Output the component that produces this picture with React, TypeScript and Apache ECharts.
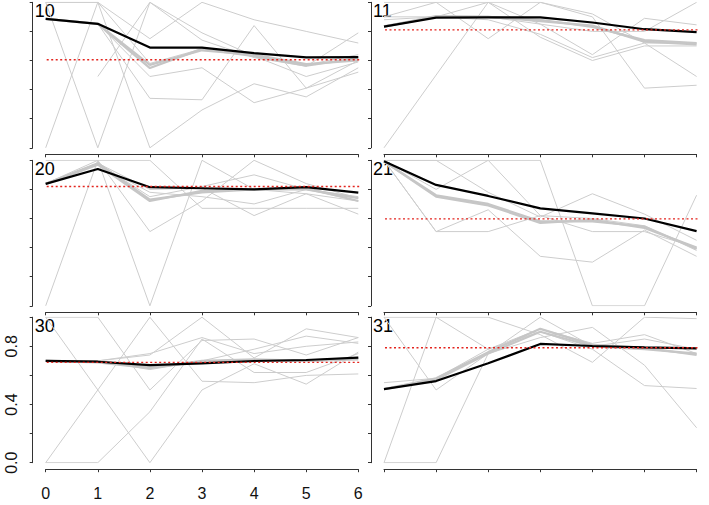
import React, { useEffect, useRef } from 'react';
import * as echarts from 'echarts';

// ---------- data ----------
const xValues = [0, 1, 2, 3, 4, 5, 6];
const panelLabels = ['10', '11', '20', '21', '30', '31'];
const yTickLabels = ['0.0', '0.4', '0.8'];
const refValues = [0.605, 0.81, 0.82, 0.598, 0.69, 0.79];

const black10 = [0.886, 0.852, 0.689, 0.689, 0.651, 0.621, 0.623];
const thick10 = [
  [0.886, 0.852, 0.548, 0.68, 0.63, 0.564, 0.616],
  [0.886, 0.852, 0.57, 0.67, 0.64, 0.575, 0.6],
];
const gray10 = [
  [1.0, 1.0, 0.75, 1.0, 0.88, 0.8, 0.72],
  [1.0, 0.0, 1.0, 0.79, 0.63, 0.49, 0.59],
  [0.0, 1.0, 0.0, 0.26, 0.44, 0.35, 0.55],
  [null, 0.49, 1.0, 0.74, 0.62, 0.56, 0.79],
  [0.886, 0.852, 0.34, 0.33, 0.84, 0.41, 0.52],
  [0.886, 0.852, 0.49, 0.55, 0.31, 0.41, 0.6],
  [1.0, 1.0, 0.58, 0.68, 0.63, 0.57, 0.64],
];

const black11 = [0.833, 0.895, 0.897, 0.897, 0.861, 0.815, 0.795];
const thick11 = [
  [0.833, 0.9, 0.9, 0.87, 0.84, 0.73, 0.71],
  [0.833, 0.905, 0.9, 0.88, 0.83, 0.74, 0.72],
];
const gray11 = [
  [0.0, 0.5, 1.0, 0.76, 0.6, 0.7, 0.7],
  [1.0, 1.0, 0.75, 1.0, 0.92, 0.72, 0.49],
  [0.9, 0.9, 1.0, 0.85, 0.64, 0.89, 0.845],
  [0.9, 1.0, 1.0, 1.0, 0.9, 0.41, 0.43],
  [0.88, 0.9, 0.9, 0.85, 0.8, 0.8, 1.0],
  [0.84, 0.9, 0.88, 0.78, 0.62, 0.72, 0.72],
];

const black20 = [0.838, 0.94, 0.815, 0.808, 0.8, 0.815, 0.778];
const thick20 = [
  [0.838, 0.98, 0.73, 0.78, 0.8, 0.81, 0.72],
  [0.838, 0.97, 0.72, 0.79, 0.8, 0.8, 0.74],
];
const gray20 = [
  [0.0, 1.0, 0.0, 1.0, 0.8, 0.77, 0.72],
  [1.0, 1.0, 1.0, 0.67, 0.67, 0.67, 0.67],
  [0.84, 1.0, 0.51, 0.72, 1.0, 0.84, 0.74],
  [0.84, 0.98, 0.8, 0.81, 0.62, 0.77, 0.63],
  [0.84, 0.98, 0.75, 0.82, 0.9, 0.8, 0.72],
  [0.84, 0.97, 0.78, 0.75, 0.7, 0.8, 0.75],
];

const black21 = [0.993, 0.831, 0.755, 0.67, 0.635, 0.6, 0.513];
const thick21 = [
  [0.993, 0.75, 0.69, 0.57, 0.59, 0.535, 0.4],
  [0.993, 0.76, 0.7, 0.58, 0.58, 0.545, 0.39],
];
const gray21 = [
  [1.0, 1.0, 1.0, 1.0, 0.0, 0.0, 0.76],
  [1.0, 0.51, 0.51, 0.62, 0.51, 0.51, 0.4],
  [1.0, 0.51, 0.66, 0.34, 0.3, 0.52, 0.34],
  [1.0, 1.0, 0.78, 0.61, 0.77, 0.63, 0.45],
  [1.0, 0.8, 1.0, 0.62, 0.6, 0.55, 0.38],
];

const black30 = [0.7, 0.694, 0.671, 0.683, 0.699, 0.706, 0.722];
const thick30 = [
  [0.7, 0.695, 0.66, 0.69, 0.7, 0.7, 0.72],
  [0.7, 0.69, 0.65, 0.7, 0.71, 0.7, 0.71],
];
const gray30 = [
  [1.0, 1.0, 0.5, 0.84, 0.85, 0.74, 0.86],
  [1.0, 0.5, 0.0, 0.5, 0.68, 0.54, 0.76],
  [0.0, 0.0, 0.35, 0.85, 0.62, 0.62, 0.75],
  [0.0, 0.5, 1.0, 0.56, 0.55, 0.6, 0.61],
  [0.7, 0.7, 0.74, 1.0, 0.72, 0.92, 0.86],
  [0.7, 0.7, 0.75, 0.86, 0.75, 0.8, 0.83],
  [0.7, 0.7, 0.64, 0.7, 0.78, 0.87, 0.82],
];

const black31 = [0.506, 0.561, 0.683, 0.816, 0.802, 0.793, 0.786];
const thick31 = [
  [0.506, 0.58, 0.76, 0.92, 0.81, 0.79, 0.74],
  [0.506, 0.57, 0.75, 0.9, 0.8, 0.78, 0.75],
];
const gray31 = [
  [0.0, 0.0, 0.75, 1.0, 0.8, 0.85, 0.78],
  [1.0, 1.0, 1.0, 0.88, 0.69, 1.0, 0.99],
  [0.0, 1.0, 0.78, 0.9, 0.78, 0.53, 0.51],
  [1.0, 0.5, 0.75, 0.86, 0.93, 0.67, 0.24],
  [0.55, 0.58, 0.78, 0.92, 0.82, 0.88, 0.75],
];

const blackLines = [black10, black11, black20, black21, black30, black31];
const thickLines = [thick10, thick11, thick20, thick21, thick30, thick31];
const grayLines = [gray10, gray11, gray20, gray21, gray30, gray31];

// ---------- layout ----------
const FONT = '"Liberation Sans", Arial, Helvetica, sans-serif';
const COL_LEFT = [45.7, 384];
const GRID_W = 312.6;
const ROW_TOP = [2.3, 160.3, 317.2];
const GRID_H = 145.5;
const Y_OFF = 13;
const X_OFF = 6.5;
const X_PAD = 0.24; // R's 4% axis extension, in x data units

function toPairs(vals: (number | null)[]) {
  const out: [number, number][] = [];
  vals.forEach((v, i) => {
    if (v !== null && v !== undefined) out.push([xValues[i], v]);
  });
  return out;
}

function buildOption() {
  const grid: any[] = [];
  const xAxis: any[] = [];
  const yAxis: any[] = [];
  const series: any[] = [];
  const graphic: any[] = [];

  panelLabels.forEach((label, i) => {
    const row = Math.floor(i / 2);
    const col = i % 2;
    const showLabels = i === 4;
    grid.push({
      left: COL_LEFT[col],
      top: ROW_TOP[row],
      width: GRID_W,
      height: GRID_H,
      containLabel: false,
    });
    xAxis.push({
      type: 'value',
      gridIndex: i,
      position: 'bottom',
      min: 0,
      max: 6,
      interval: 1,
      offset: X_OFF,
      axisLine: { show: true, onZero: false, lineStyle: { color: '#333', width: 1 } },
      axisTick: { show: true, length: 3, lineStyle: { color: '#333', width: 1 } },
      axisLabel: {
        show: showLabels,
        margin: 16,
        fontSize: 16,
        color: '#111',
        fontFamily: FONT,
      },
      splitLine: { show: false },
    });
    yAxis.push({
      type: 'value',
      gridIndex: i,
      position: 'left',
      min: 0,
      max: 1,
      interval: 0.2,
      offset: Y_OFF,
      axisLine: { show: true, onZero: false, lineStyle: { color: '#333', width: 1 } },
      axisTick: { show: true, length: 3, lineStyle: { color: '#333', width: 1 } },
      axisLabel: {
        show: showLabels,
        rotate: 90,
        margin: 13,
        fontSize: 16,
        color: '#111',
        fontFamily: FONT,
        formatter: (v: number) => {
          const s = v.toFixed(1);
          return yTickLabels.includes(s) ? s : '';
        },
      },
      splitLine: { show: false },
    });

    grayLines[i].forEach((vals) => {
      series.push({
        type: 'line',
        xAxisIndex: i,
        yAxisIndex: i,
        data: toPairs(vals),
        symbol: 'none',
        silent: true,
        lineStyle: { color: '#cdcdcd', width: 1 },
      });
    });
    thickLines[i].forEach((vals) => {
      series.push({
        type: 'line',
        xAxisIndex: i,
        yAxisIndex: i,
        data: toPairs(vals),
        symbol: 'none',
        silent: true,
        lineStyle: { color: '#c6c6c6', width: 2.2 },
      });
    });
    series.push({
      type: 'line',
      xAxisIndex: i,
      yAxisIndex: i,
      data: toPairs(blackLines[i]),
      symbol: 'none',
      silent: true,
      lineStyle: { color: '#000', width: 2.2 },
    });
    series.push({
      type: 'line',
      xAxisIndex: i,
      yAxisIndex: i,
      clip: false,
      data: [
        [xValues[0] - X_PAD, refValues[i]],
        [xValues[xValues.length - 1] + X_PAD, refValues[i]],
      ],
      symbol: 'none',
      silent: true,
      lineStyle: { color: '#e3241e', width: 1.3, type: [2, 2.5] },
    });

    graphic.push({
      type: 'text',
      x: COL_LEFT[col] - Y_OFF + 2,
      y: ROW_TOP[row],
      silent: true,
      style: {
        text: label,
        font: `18px ${FONT}`,
        fill: '#000',
        textAlign: 'left',
        textVerticalAlign: 'top',
      },
    });
  });

  return {
    animation: false,
    backgroundColor: '#fff',
    grid,
    xAxis,
    yAxis,
    series,
    graphic,
  };
}

export default function App() {
  const ref = useRef<HTMLDivElement>(null);
  useEffect(() => {
    if (!ref.current) return;
    const chart = echarts.init(ref.current, undefined, { renderer: 'svg' });
    chart.setOption(buildOption());
    return () => chart.dispose();
  }, []);
  return (
    <div
      ref={ref}
      style={{ position: 'absolute', left: 0, top: 0, width: 709, height: 505 }}
    />
  );
}
